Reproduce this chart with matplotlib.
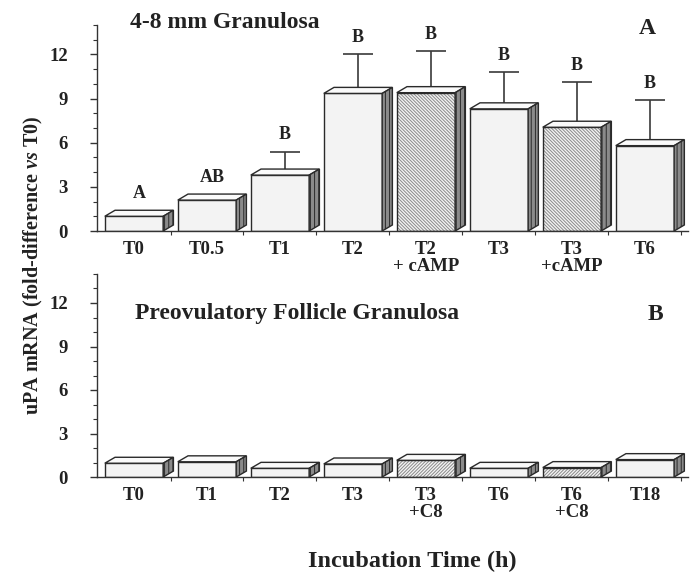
import matplotlib
matplotlib.use('Agg')
import matplotlib.pyplot as plt
from matplotlib.patches import Polygon
from matplotlib.ticker import MultipleLocator, FixedLocator

# panel A: 4-8 mm granulosa
top_labels = ['T0', 'T0.5', 'T1', 'T2', 'T2\n+ cAMP', 'T3', 'T3\n+cAMP', 'T6']
top_means = [1.0, 2.1, 3.8, 9.35, 9.4, 8.3, 7.05, 5.8]
top_sems = [0.0, 0.15, 1.6, 2.7, 2.8, 2.5, 3.05, 3.1]
top_hatched = [False, False, False, False, True, False, True, False]
top_letters = ['A', 'AB', 'B', 'B', 'B', 'B', 'B', 'B']

# panel B: preovulatory follicle granulosa
bottom_labels = ['T0', 'T1', 'T2', 'T3', 'T3\n+C8', 'T6', 'T6\n+C8', 'T18']
bottom_means = [0.95, 1.05, 0.6, 0.9, 1.15, 0.6, 0.65, 1.2]
bottom_sems = [0.05, 0.1, 0.08, 0.1, 0.1, 0.08, 0.08, 0.3]
bottom_hatched = [False, False, False, False, True, False, True, False]

FONT = 'Liberation Serif'
plt.rcParams['font.family'] = FONT
plt.rcParams['font.weight'] = 'bold'
plt.rcParams['hatch.linewidth'] = 0.7
plt.rcParams['mathtext.fontset'] = 'custom'
plt.rcParams['mathtext.it'] = 'Liberation Serif:italic:bold'
plt.rcParams['mathtext.rm'] = 'Liberation Serif:bold'

BW = 0.8      # bar width (category units)
DX = 0.14     # depth offset x
DY = 0.41     # depth offset y


def draw_panel(ax, labels, means, sems, hatched, hatch, letters=None):
    for i, v in enumerate(means):
        x0 = i - BW / 2
        # fill + hatch in grey, then dark outline on top
        ax.bar(i, v, BW, color='#f3f3f3', edgecolor='#8a8a8a', lw=0,
               hatch=hatch if hatched[i] else None, zorder=2)
        ax.bar(i, v, BW, color='none', edgecolor='#2a2a2a', lw=1.0, zorder=2.1)
        top = Polygon([(x0, v), (x0 + DX, v + DY), (x0 + BW + DX, v + DY), (x0 + BW, v)],
                      closed=True, fc='#fafafa', ec='#2a2a2a', lw=1.0, zorder=3)
        side = Polygon([(x0 + BW, 0), (x0 + BW, v), (x0 + BW + DX, v + DY), (x0 + BW + DX, DY)],
                       closed=True, fc='#8a8a8a', ec='#2a2a2a', lw=1.0, hatch='||||', zorder=3)
        ax.add_patch(top)
        ax.add_patch(side)
        if sems[i] > 0:
            ax.errorbar(i + DX / 2, v, yerr=[[0], [sems[i]]], fmt='none', ecolor='#3a3a3a',
                        elinewidth=1.2, capsize=11, capthick=1.2, zorder=1.5)
        if letters is not None:
            base = max(v + sems[i], v + DY)
            ax.annotate(letters[i], (i + DX / 2, base), xytext=(0, 12), textcoords='offset points',
                        ha='center', va='center', fontsize=13, fontweight='bold', color='#222')

    ax.set_xlim(-0.507, 7.59)
    ax.set_ylim(0, 14)
    for s in ['top', 'right']:
        ax.spines[s].set_visible(False)
    for s in ['left', 'bottom']:
        ax.spines[s].set_color('#333')
        ax.spines[s].set_linewidth(1.0)
    ax.set_yticks([0, 3, 6, 9, 12])
    ax.yaxis.set_minor_locator(MultipleLocator(1))
    ax.tick_params(axis='y', which='major', length=5, width=1, pad=16, labelsize=13.5, colors='#333')
    ax.tick_params(axis='y', which='minor', length=3, width=0.8, colors='#333')
    ax.set_xticks(range(len(labels)))
    ax.set_xticklabels(labels, linespacing=1.0)
    ax.xaxis.set_minor_locator(FixedLocator([i + 0.5 for i in range(len(labels))]))
    ax.tick_params(axis='x', which='major', length=0, pad=7, labelsize=13.5, colors='#222')
    ax.tick_params(axis='x', which='minor', length=3, width=0.8, colors='#333')
    for t in ax.get_yticklabels() + ax.get_xticklabels():
        t.set_fontweight('bold')
        t.set_color('#222')


fig = plt.figure(figsize=(6.99, 5.78), dpi=100)
ax1 = fig.add_axes([97 / 699, 1 - 231 / 578, 591 / 699, 206 / 578])
ax2 = fig.add_axes([97 / 699, 1 - 477 / 578, 591 / 699, 203 / 578])

draw_panel(ax1, top_labels, top_means, top_sems, top_hatched, '\\' * 10, top_letters)
draw_panel(ax2, bottom_labels, bottom_means, bottom_sems, bottom_hatched, '/' * 10)

fig.text(225 / 699, 1 - 22 / 578, '4-8 mm Granulosa', ha='center', va='center',
         fontsize=17, fontweight='bold', color='#222')
fig.text(647 / 699, 1 - 28 / 578, 'A', ha='center', va='center',
         fontsize=17, fontweight='bold', color='#222')
fig.text(297 / 699, 1 - 314 / 578, 'Preovulatory Follicle Granulosa', ha='center', va='center',
         fontsize=17, fontweight='bold', color='#222')
fig.text(655 / 699, 1 - 314 / 578, 'B', ha='center', va='center',
         fontsize=17, fontweight='bold', color='#222')

fig.text(33 / 699, 1 - 265 / 578, r'uPA mRNA (fold-difference $\mathit{vs}$ T0)', rotation=90,
         ha='center', va='center', fontsize=14.5, fontweight='bold', color='#222')
fig.text(412 / 699, 1 - 561 / 578, 'Incubation Time (h)', ha='center', va='center',
         fontsize=17.5, fontweight='bold', color='#222')

fig.savefig('out.png', dpi=100)
